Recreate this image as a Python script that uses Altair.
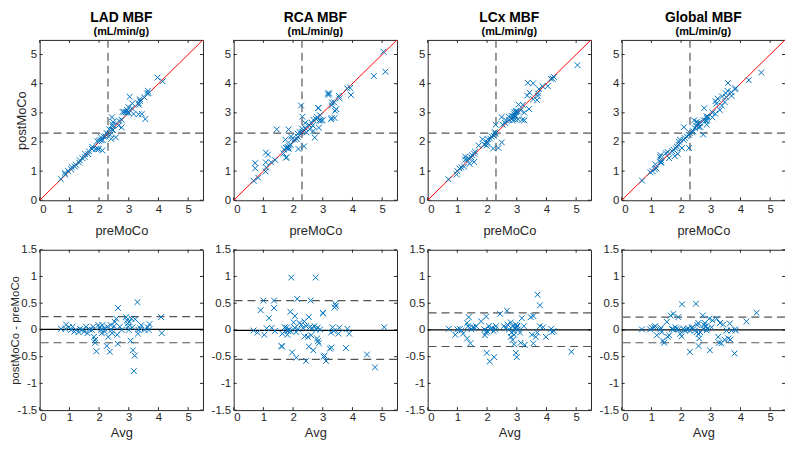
import altair as alt
import pandas as pd

# ---------------- text ----------------
TITLES = ["LAD MBF", "RCA MBF", "LCx MBF", "Global MBF"]
SUBTITLE = "(mL/min/g)"
X_TOP_TITLE = "preMoCo"
Y_TOP_TITLE = "postMoCo"
X_BOT_TITLE = "Avg"
Y_BOT_TITLE = "postMoCo - preMoCo"

# ---------------- axes ----------------
TOP_TICKS = [0, 1, 2, 3, 4, 5]
BOT_TICKS = [-1.5, -1, -0.5, 0, 0.5, 1, 1.5]
TOP_DOMAIN = [0, 5.5]
BOT_DOMAIN = [-1.5, 1.5]
IDENTITY = [0, 5.5]
THRESHOLD = 2.3

# ---------------- data (Bland-Altman: average, difference) ----------------
LAD_AVG = [0.72, 0.89, 0.87, 0.98, 1.06, 1.11, 1.17, 1.22, 1.31, 1.36, 1.44, 1.50, 1.56, 1.61, 1.67,
           1.76, 1.80, 1.83, 1.86, 1.87, 1.91, 1.98, 2.02, 2.06, 2.09, 2.11, 2.17, 2.20, 2.26, 2.28,
           2.31, 2.36, 2.39, 2.42, 2.44, 2.50, 2.53, 2.58, 2.61, 2.63, 2.64, 2.70, 2.76, 2.91, 2.94,
           2.96, 2.98, 3.00, 3.02, 3.06, 3.09, 3.13, 3.14, 3.20, 3.17, 3.29, 3.22, 3.31, 3.33, 3.39,
           3.42, 3.53, 3.64, 3.70, 3.67, 4.09, 4.11]
LAD_DIFF = [0.02, 0.10, 0.02, 0.05, 0.00, 0.06, -0.03, 0.00, -0.04, 0.02, 0.00, -0.03, 0.06, -0.06, 0.01,
            0.00, 0.06, -0.13, -0.19, -0.24, -0.40, 0.09, 0.05, 0.00, -0.06, 0.09, 0.03, -0.03, -0.30, 0.06,
            -0.13, -0.41, 0.09, 0.00, -0.06, 0.07, 0.15, 0.21, -0.09, -0.26, 0.41, 0.06, 0.00, 0.24, 0.18,
            0.12, 0.06, 0.00, 0.15, -0.20, 0.21, 0.05, -0.38, -0.48, -0.77, 0.52, 0.20, -0.07, 0.00, 0.03,
            0.09, 0.00, 0.05, 0.11, 0.00, 0.24, -0.06]

RCA_AVG = [1.94, 2.76, 1.00, 1.36, 2.14, 2.59, 0.91, 1.36, 3.42, 3.44, 3.40, 3.00, 3.01, 1.91, 2.06,
           1.19, 2.53, 2.38, 2.22, 2.02, 0.67, 0.80, 1.03, 1.11, 1.28, 1.39, 1.72, 1.78, 1.81, 1.83,
           1.87, 1.91, 2.06, 2.11, 2.17, 2.28, 2.33, 2.39, 2.44, 2.50, 2.56, 2.61, 2.64, 2.72, 2.78,
           2.83, 2.81, 2.84, 2.87, 2.91, 3.28, 3.33, 3.37, 3.53, 3.56, 3.83, 3.89, 3.24, 3.29, 3.06,
           3.03, 3.11, 1.63, 1.61, 1.97, 2.11, 2.44, 2.53, 2.68, 3.78, 4.49, 4.76, 5.07, 1.64, 1.80]
RCA_DIFF = [0.98, 0.98, 0.55, 0.55, 0.58, 0.55, 0.37, 0.41, 0.49, 0.45, 0.42, 0.32, 0.31, 0.34, 0.26,
            0.22, 0.24, 0.16, 0.13, 0.14, -0.01, -0.05, -0.09, 0.03, 0.04, -0.02, 0.05, 0.04, -0.09, -0.02,
            0.01, -0.02, 0.04, -0.04, 0.01, 0.10, 0.04, -0.12, 0.07, -0.13, 0.05, -0.10, 0.04, 0.07, 0.01,
            0.04, -0.16, -0.21, -0.25, 0.01, -0.05, 0.05, -0.02, -0.07, 0.04, 0.02, -0.07, -0.35, -0.33, -0.48,
            -0.50, -0.58, -0.31, -0.30, -0.42, -0.52, -0.58, -0.31, -0.38, -0.34, -0.46, -0.70, 0.05, -0.07, -0.01]

LCX_AVG = [0.71, 0.93, 1.00, 1.08, 1.13, 1.19, 1.33, 1.38, 1.36, 1.41, 1.47, 1.52, 1.58, 1.63, 1.33,
           1.44, 1.80, 1.97, 1.91, 1.97, 2.00, 2.06, 2.11, 2.17, 2.22, 2.28, 2.30, 1.93, 1.99, 2.09,
           2.24, 2.44, 2.67, 2.56, 2.63, 2.69, 2.74, 2.80, 2.82, 2.86, 2.89, 2.91, 2.93, 2.97, 3.00,
           3.02, 3.04, 2.80, 2.86, 2.91, 2.97, 3.00, 3.11, 3.13, 3.17, 3.24, 3.27, 3.47, 3.56, 3.51,
           3.56, 3.64, 3.69, 3.70, 3.78, 3.78, 3.89, 3.98, 4.16, 4.19, 4.24, 4.84]
LCX_DIFF = [0.02, -0.09, 0.01, 0.02, -0.01, -0.07, 0.13, 0.24, 0.07, 0.04, 0.01, 0.05, 0.04, 0.07, -0.16,
            -0.25, 0.16, 0.25, 0.01, -0.05, -0.02, 0.07, 0.01, 0.04, -0.02, 0.01, 0.07, -0.10, -0.43, -0.59,
            -0.51, 0.30, 0.36, 0.07, 0.04, 0.10, 0.01, 0.14, -0.05, 0.07, -0.02, -0.09, 0.04, 0.10, 0.05,
            0.08, 0.01, -0.13, -0.19, -0.27, -0.43, -0.51, -0.05, -0.24, 0.22, 0.07, -0.28, 0.24, 0.26, -0.09,
            -0.25, -0.13, -0.05, 0.66, 0.46, 0.07, 0.05, -0.13, 0.02, -0.04, -0.02, -0.41]

GLB_AVG = [0.68, 0.96, 1.02, 1.09, 1.13, 1.18, 1.30, 1.35, 1.32, 1.39, 1.43, 1.52, 1.55, 1.60, 1.65,
           1.74, 1.69, 1.74, 1.80, 1.85, 1.91, 1.91, 1.97, 2.02, 2.03, 2.08, 2.13, 2.19, 2.25, 2.30,
           2.36, 2.30, 2.39, 2.50, 2.47, 2.53, 2.55, 2.58, 2.61, 2.64, 2.59, 2.59, 2.73, 2.75, 2.78,
           2.80, 2.84, 2.86, 2.88, 2.95, 2.97, 3.03, 3.06, 3.20, 3.25, 3.28, 3.31, 3.36, 3.42, 3.47,
           3.53, 3.59, 3.64, 3.66, 3.70, 3.81, 3.84, 3.80, 4.20, 4.54]
GLB_DIFF = [0.01, 0.01, 0.04, 0.05, 0.07, -0.10, 0.01, -0.04, 0.04, -0.20, -0.24, 0.15, -0.13, -0.10, 0.27,
            0.30, 0.02, 0.01, 0.05, 0.02, 0.01, 0.24, -0.07, -0.12, 0.48, 0.02, -0.01, 0.01, 0.02, -0.01,
            0.04, -0.41, 0.05, 0.49, -0.01, -0.04, 0.09, 0.13, -0.16, -0.04, -0.08, -0.30, 0.27, 0.02, 0.09,
            0.13, 0.07, -0.01, 0.02, 0.21, -0.38, 0.05, 0.18, 0.21, -0.13, -0.24, 0.13, -0.25, 0.10, -0.18,
            -0.01, -0.16, 0.12, -0.18, -0.01, 0.01, -0.01, -0.44, 0.16, 0.32]

ALL_AVG = [LAD_AVG, RCA_AVG, LCX_AVG, GLB_AVG]
ALL_DIFF = [LAD_DIFF, RCA_DIFF, LCX_DIFF, GLB_DIFF]
# sign of the plotted difference relative to (post - pre) in each panel
DIFF_SIGN = [1, 1, 1, -1]
MEAN_DIFF = [0.01, -0.01, 0.0, 0.0]
UPPER_LOA = [0.25, 0.55, 0.32, 0.24]
LOWER_LOA = [-0.24, -0.55, -0.31, -0.24]

# ---------------- style ----------------
FONT = "Liberation Sans"
AX = "#262626"
BLUE = "#0072BD"
DASH = "#555555"
XPATH = "M-1,-1L1,1M-1,1L1,-1"
W, H = 165, 162
TICK = 3
LABEL_EXPR = "replace(format(datum.value, '.1~f'), '\u2212', '-')"


def make_axis(values, title=None, title_pad=None, title_x=None, title_size=13, label_pad=3):
    kw = dict(values=values, grid=False, ticks=False, domain=False,
              labelFontSize=11.5, labelColor=AX, labelFont=FONT, labelPadding=label_pad,
              labelOverlap=False, labelExpr=LABEL_EXPR,
              titleFontSize=title_size, titleFontWeight="normal", titleColor=AX, titleFont=FONT)
    if title is not None:
        kw["title"] = title
        if title_pad is not None:
            kw["titlePadding"] = title_pad
        if title_x is not None:
            kw["titleX"] = title_x
    else:
        kw["title"] = ""
    return alt.Axis(**kw)


def channel_makers(xdom, xaxis, ydom, yaxis):
    xs = lambda f: alt.X(f, type="quantitative", scale=alt.Scale(domain=xdom, nice=False, zero=False), axis=xaxis)
    ys = lambda f: alt.Y(f, type="quantitative", scale=alt.Scale(domain=ydom, nice=False, zero=False), axis=yaxis)
    return xs, ys


def edge_ticks(xvals, yvals, xs, ys):
    tx = alt.Chart(pd.DataFrame({"t": xvals})).mark_rule(color=AX, strokeWidth=1)
    ty = alt.Chart(pd.DataFrame({"t": yvals})).mark_rule(color=AX, strokeWidth=1)
    return [
        tx.encode(x=xs("t"), y=alt.value(H), y2=alt.value(H - TICK)),
        tx.encode(x=xs("t"), y=alt.value(0), y2=alt.value(TICK)),
        ty.encode(y=ys("t"), x=alt.value(0), x2=alt.value(TICK)),
        ty.encode(y=ys("t"), x=alt.value(W), x2=alt.value(W - TICK)),
    ]


def frame_df(i):
    return pd.DataFrame({"avg": ALL_AVG[i], "diff": ALL_DIFF[i], "s": DIFF_SIGN[i]})


def point_mark(chart):
    return chart.mark_point(shape=XPATH, filled=False, size=34, strokeWidth=1, color=BLUE, opacity=1)


def top_panel(i):
    xaxis = make_axis(TOP_TICKS, X_TOP_TITLE, title_pad=10)
    yaxis = make_axis(TOP_TICKS, Y_TOP_TITLE if i == 0 else None, title_x=-11)
    xs, ys = channel_makers(TOP_DOMAIN, xaxis, TOP_DOMAIN, yaxis)
    thr = pd.DataFrame({"v": [THRESHOLD]})
    layers = edge_ticks(TOP_TICKS, TOP_TICKS, xs, ys)
    layers += [
        alt.Chart(thr).mark_rule(color=DASH, strokeWidth=1.2, strokeDash=[8, 5]).encode(x=xs("v")),
        alt.Chart(thr).mark_rule(color=DASH, strokeWidth=1.2, strokeDash=[8, 5]).encode(y=ys("v")),
        alt.Chart(pd.DataFrame({"v": IDENTITY})).mark_line(color="#ff0000", strokeWidth=1).encode(
            x=xs("v"), y=ys("v")),
        point_mark(alt.Chart(frame_df(i)).transform_calculate(
            pre="datum.avg - datum.s * datum.diff / 2",
            post="datum.avg + datum.s * datum.diff / 2",
        )).encode(x=xs("pre"), y=ys("post")),
    ]
    return alt.layer(*layers).properties(
        width=W, height=H,
        title=alt.TitleParams(text=TITLES[i], subtitle=SUBTITLE, font=FONT, subtitleFont=FONT,
                              fontSize=14, fontWeight="bold", subtitleFontSize=11,
                              subtitleFontWeight="bold", color="#000000", subtitleColor="#000000",
                              anchor="middle", frame="group", offset=1, subtitlePadding=1),
    )


def bottom_panel(i):
    xaxis = make_axis(TOP_TICKS, X_BOT_TITLE, title_pad=3, label_pad=2)
    yaxis = make_axis(BOT_TICKS, Y_BOT_TITLE if i == 0 else None, title_x=-19, title_size=11.5)
    xs, ys = channel_makers(TOP_DOMAIN, xaxis, BOT_DOMAIN, yaxis)
    layers = edge_ticks(TOP_TICKS, BOT_TICKS, xs, ys)
    layers += [
        alt.Chart(pd.DataFrame({"v": [UPPER_LOA[i], LOWER_LOA[i]]})).mark_rule(
            color=DASH, strokeWidth=1.2, strokeDash=[8, 5]).encode(y=ys("v")),
        alt.Chart(pd.DataFrame({"v": [MEAN_DIFF[i]]})).mark_rule(color="#000000", strokeWidth=1.2).encode(
            y=ys("v")),
        point_mark(alt.Chart(frame_df(i))).encode(x=xs("avg"), y=ys("diff")),
    ]
    return alt.layer(*layers).properties(width=W, height=H)


panels = [top_panel(i) for i in range(4)] + [bottom_panel(i) for i in range(4)]

chart = alt.concat(
    *panels, columns=4, bounds="flush",
    spacing=alt.RowColnumber(row=50, column=31),
).properties(
    autosize=alt.AutoSizeParams(type="none"),
    padding={"left": 32, "top": 30, "right": 753, "bottom": 406},
).configure(font=FONT).configure_view(stroke=AX, strokeWidth=1)

chart.save("out.html", embed_options={"renderer": "svg", "actions": False})
